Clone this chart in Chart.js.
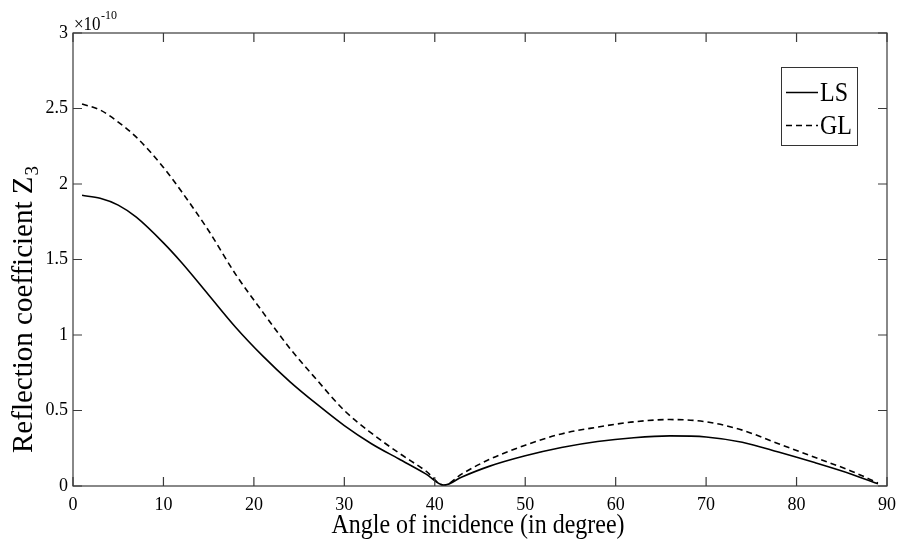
<!DOCTYPE html>
<html>
<head>
<meta charset="utf-8">
<script src="https://cdn.jsdelivr.net/npm/chart.js@4.4.1/dist/chart.umd.min.js"></script>
<style>
  html, body { margin: 0; padding: 0; background: #fff; }
</style>
</head>
<body>
<canvas id="chart" width="904" height="548"></canvas>
<script>
// angle of incidence (degree)
const angles = [1, 3, 5, 7, 10, 12, 15, 18, 21, 24, 27, 30, 33, 36, 39, 41, 43, 46, 50, 54, 58, 62, 66, 70, 74, 78, 82, 86, 89];
// reflection coefficient Z3, in units of 1e-10
const lsValues = [1.925, 1.905, 1.86, 1.78, 1.61, 1.48, 1.265, 1.05, 0.86, 0.69, 0.54, 0.40, 0.28, 0.18, 0.08, 0.005, 0.06, 0.13, 0.20, 0.255, 0.295, 0.32, 0.332, 0.325, 0.29, 0.225, 0.155, 0.08, 0.015];
const glValues = [2.53, 2.49, 2.41, 2.31, 2.11, 1.95, 1.69, 1.40, 1.15, 0.91, 0.70, 0.50, 0.35, 0.22, 0.10, 0.005, 0.08, 0.175, 0.27, 0.345, 0.39, 0.425, 0.44, 0.425, 0.37, 0.28, 0.19, 0.10, 0.02];
const xTicks = [0, 10, 20, 30, 40, 50, 60, 70, 80, 90];
const yTicks = [0, 0.5, 1, 1.5, 2, 2.5, 3];
const seriesNames = ["LS", "GL"];

const FONT = "'Liberation Serif', 'Times New Roman', serif";

function toPoints(xs, ys) {
  return xs.map((x, i) => ({ x: x, y: ys[i] }));
}

// text with a slight vertical stretch like the original figure
function drawText(ctx, text, x, y, size, align, sy) {
  ctx.save();
  ctx.translate(x, y);
  ctx.scale(1, sy || 1);
  ctx.font = size + "px " + FONT;
  ctx.textAlign = align || "left";
  ctx.textBaseline = "alphabetic";
  ctx.fillText(text, 0, 0);
  ctx.restore();
}

const decorations = {
  id: "decorations",
  afterDraw(chart) {
    const { ctx, chartArea: a, scales } = chart;
    ctx.save();

    // frame + inward ticks
    ctx.strokeStyle = "#3a3a3a";
    ctx.lineWidth = 1.2;
    ctx.strokeRect(a.left, a.top, a.right - a.left, a.bottom - a.top);
    ctx.beginPath();
    xTicks.forEach((v) => {
      const px = scales.x.getPixelForValue(v);
      ctx.moveTo(px, a.bottom); ctx.lineTo(px, a.bottom - 9);
      ctx.moveTo(px, a.top); ctx.lineTo(px, a.top + 9);
    });
    yTicks.forEach((v) => {
      const py = scales.y.getPixelForValue(v);
      ctx.moveTo(a.left, py); ctx.lineTo(a.left + 9, py);
      ctx.moveTo(a.right, py); ctx.lineTo(a.right - 9, py);
    });
    ctx.stroke();

    ctx.fillStyle = "#000";
    // exponent label
    drawText(ctx, "\u00d710", a.left + 1, 29.5, 17, "left", 1.12);
    drawText(ctx, "-10", a.left + 28, 19, 12, "left", 1.1);

    // x axis title
    drawText(ctx, "Angle of incidence (in degree)", 478, 533, 24, "center", 1.15);

    // y axis title (rotated)
    ctx.save();
    ctx.translate(32, 310);
    ctx.rotate(-Math.PI / 2);
    ctx.font = "29px " + FONT;
    ctx.textAlign = "left";
    ctx.textBaseline = "alphabetic";
    const main = "Reflection coefficient Z";
    const w = ctx.measureText(main).width;
    ctx.font = "19px " + FONT;
    const ws = ctx.measureText("3").width;
    const start = -(w + ws) / 2;
    ctx.font = "29px " + FONT;
    ctx.fillText(main, start, 0);
    ctx.font = "19px " + FONT;
    ctx.fillText("3", start + w + 1, 6);
    ctx.restore();

    // legend box
    const lx = 781, ly = 67, lw = 76, lh = 78;
    ctx.strokeStyle = "#333";
    ctx.lineWidth = 1;
    ctx.strokeRect(lx + 0.5, ly + 0.5, lw, lh);
    chart.data.datasets.forEach((ds, i) => {
      const yy = i === 0 ? 92.5 : 125.5;
      ctx.beginPath();
      ctx.strokeStyle = "#000";
      ctx.lineWidth = 1.5;
      ctx.setLineDash(ds.borderDash || []);
      ctx.moveTo(786, yy);
      ctx.lineTo(818, yy);
      ctx.stroke();
      ctx.setLineDash([]);
      drawText(ctx, ds.label, 820, yy + 8, 24, "left", 1.15);
    });

    ctx.restore();
  }
};

new Chart(document.getElementById("chart"), {
  type: "line",
  data: {
    datasets: [
      {
        label: seriesNames[0],
        data: toPoints(angles, lsValues),
        borderColor: "#000",
        borderWidth: 1.6,
        pointRadius: 0,
        cubicInterpolationMode: "monotone",
        fill: false,
      },
      {
        label: seriesNames[1],
        data: toPoints(angles, glValues),
        borderColor: "#000",
        borderWidth: 1.6,
        borderDash: [6, 4],
        pointRadius: 0,
        cubicInterpolationMode: "monotone",
        fill: false,
      },
    ],
  },
  options: {
    responsive: false,
    animation: false,
    devicePixelRatio: 1,
    layout: { padding: { left: 0, top: 33, right: 17, bottom: 0 } },
    plugins: {
      legend: { display: false },
      tooltip: { enabled: false },
      title: { display: false },
    },
    scales: {
      x: {
        type: "linear",
        min: 0,
        max: 90,
        afterBuildTicks: (scale) => { scale.ticks = xTicks.map((v) => ({ value: v })); },
        afterFit: (scale) => { scale.height = 62; },
        grid: { display: false, drawTicks: false },
        border: { display: false },
        ticks: { color: "#000", padding: 8, maxRotation: 0, callback: (v) => String(v), font: { family: FONT, size: 18 } },
      },
      y: {
        type: "linear",
        min: 0,
        max: 3,
        afterBuildTicks: (scale) => { scale.ticks = yTicks.map((v) => ({ value: v })); },
        afterFit: (scale) => { scale.width = 73; },
        grid: { display: false, drawTicks: false },
        border: { display: false },
        ticks: { color: "#000", padding: 5, callback: (v) => String(v), font: { family: FONT, size: 18 } },
      },
    },
  },
  plugins: [decorations],
});
</script>
</body>
</html>
